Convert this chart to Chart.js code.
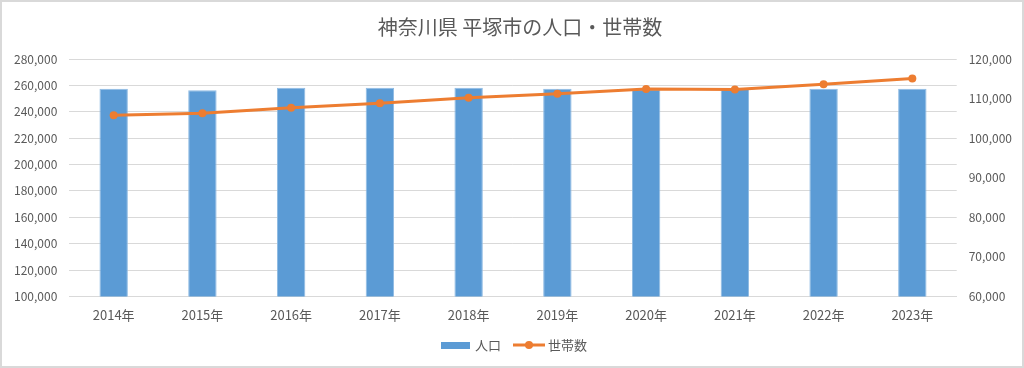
<!DOCTYPE html>
<html>
<head>
<meta charset="utf-8">
<script src="https://cdn.jsdelivr.net/npm/chart.js@4/dist/chart.umd.min.js"></script>
<style>
  html, body { margin: 0; padding: 0; background: #fff; }
  #wrap { width: 1024px; height: 368px; }
</style>
</head>
<body>
<div id="wrap"><canvas id="chart" width="1024" height="368"></canvas></div>
<script>
const years = ['2014年', '2015年', '2016年', '2017年', '2018年', '2019年', '2020年', '2021年', '2022年', '2023年'];
const population = [257500, 256400, 258200, 258200, 258200, 257500, 257100, 257200, 257500, 257500];
const households = [105800, 106300, 107700, 108800, 110200, 111200, 112400, 112300, 113600, 115100];
const titleText = '神奈川県 平塚市の人口・世帯数';
const popLabel = '人口';
const hhLabel = '世帯数';

const FONT = '"Noto Sans CJK JP", "Noto Sans", sans-serif';
const GREY = '#595959';
const BLUE = '#5B9BD5';
const ORANGE = '#ED7D31';

// frame, title and legend drawn like the spreadsheet chart
const decor = {
  id: 'decor',
  beforeDraw(chart) {
    const c = chart.ctx;
    c.save();
    c.fillStyle = '#fff';
    c.fillRect(0, 0, chart.width, chart.height);
    c.restore();
  },
  afterDraw(chart) {
    const c = chart.ctx;
    c.save();
    c.strokeStyle = '#d9d9d9';
    c.lineWidth = 2;
    c.strokeRect(1, 1, chart.width - 2, chart.height - 2);

    c.fillStyle = GREY;
    c.font = '20px ' + FONT;
    c.textAlign = 'center';
    c.textBaseline = 'middle';
    c.fillText(titleText, chart.width / 2 + 8, 27);

    // legend
    const y = 345;
    c.font = '13px ' + FONT;
    c.textAlign = 'left';
    c.fillStyle = BLUE;
    c.fillRect(441, y - 3, 29, 7);
    c.fillStyle = GREY;
    c.fillText(popLabel, 475, y);
    c.strokeStyle = ORANGE;
    c.lineWidth = 3;
    c.beginPath();
    c.moveTo(513, y);
    c.lineTo(545, y);
    c.stroke();
    c.fillStyle = ORANGE;
    c.beginPath();
    c.arc(529, y, 4, 0, Math.PI * 2);
    c.fill();
    c.fillStyle = GREY;
    c.fillText(hhLabel, 548, y);
    c.restore();
  }
};

new Chart(document.getElementById('chart'), {
  type: 'bar',
  data: {
    labels: years,
    datasets: [
      {
        type: 'line',
        label: hhLabel,
        data: households,
        yAxisID: 'y2',
        borderColor: ORANGE,
        backgroundColor: ORANGE,
        borderWidth: 3,
        pointRadius: 4,
        pointBackgroundColor: ORANGE,
        pointBorderWidth: 0,
        tension: 0,
        order: 0
      },
      {
        type: 'bar',
        label: popLabel,
        data: population,
        yAxisID: 'y',
        backgroundColor: BLUE,
        borderColor: '#8fbbe3',
        borderWidth: 1,
        barPercentage: 0.32,
        categoryPercentage: 1,
        order: 1
      }
    ]
  },
  options: {
    responsive: false,
    animation: false,
    layout: { padding: { top: 59, left: 2, right: 0, bottom: 34 } },
    plugins: {
      legend: { display: false },
      title: { display: false },
      tooltip: { enabled: false }
    },
    scales: {
      x: {
        grid: { display: false, drawTicks: false },
        border: { color: '#d9d9d9' },
        ticks: { color: GREY, font: { family: FONT, size: 13 }, padding: 11 }
      },
      y: {
        position: 'left',
        min: 100000,
        max: 280000,
        grid: { color: '#d9d9d9', drawTicks: false },
        border: { display: false },
        ticks: {
          stepSize: 20000,
          color: GREY,
          padding: 12,
          font: { family: FONT, size: 12 },
          callback: v => v.toLocaleString('en-US')
        }
      },
      y2: {
        position: 'right',
        min: 60000,
        max: 120000,
        grid: { display: false, drawTicks: false },
        border: { display: false },
        ticks: {
          stepSize: 10000,
          color: GREY,
          padding: 12,
          font: { family: FONT, size: 12 },
          callback: v => v.toLocaleString('en-US')
        }
      }
    }
  },
  plugins: [decor]
});
</script>
</body>
</html>
